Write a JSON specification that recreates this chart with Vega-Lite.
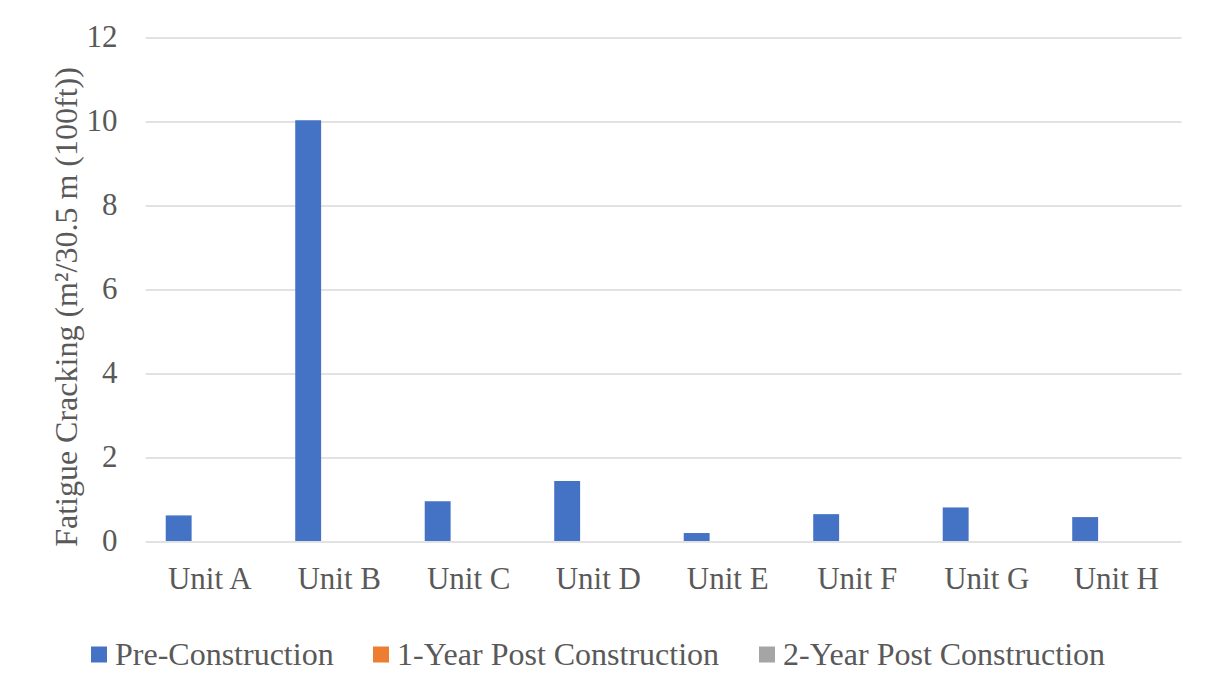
{
  "$schema": "https://vega.github.io/schema/vega-lite/v6.json",
  "autosize": "none",
  "width": 1036,
  "height": 503.5,
  "padding": {"left": 145, "top": 37.5, "right": 26, "bottom": 136},
  "background": "white",
  "config": {
    "font": "Liberation Serif",
    "view": {"stroke": null},
    "axis": {"labelFont": "Liberation Serif", "titleFont": "Liberation Serif"},
    "legend": {"labelFont": "Liberation Serif", "padding": 0}
  },
  "data": {
    "values": [
      {"unit": "Unit A", "series": "Pre-Construction", "value": 0.61},
      {"unit": "Unit A", "series": "1-Year Post Construction", "value": 0},
      {"unit": "Unit A", "series": "2-Year Post Construction", "value": 0},
      {"unit": "Unit B", "series": "Pre-Construction", "value": 10.03},
      {"unit": "Unit B", "series": "1-Year Post Construction", "value": 0},
      {"unit": "Unit B", "series": "2-Year Post Construction", "value": 0},
      {"unit": "Unit C", "series": "Pre-Construction", "value": 0.95},
      {"unit": "Unit C", "series": "1-Year Post Construction", "value": 0},
      {"unit": "Unit C", "series": "2-Year Post Construction", "value": 0},
      {"unit": "Unit D", "series": "Pre-Construction", "value": 1.43},
      {"unit": "Unit D", "series": "1-Year Post Construction", "value": 0},
      {"unit": "Unit D", "series": "2-Year Post Construction", "value": 0},
      {"unit": "Unit E", "series": "Pre-Construction", "value": 0.19},
      {"unit": "Unit E", "series": "1-Year Post Construction", "value": 0},
      {"unit": "Unit E", "series": "2-Year Post Construction", "value": 0},
      {"unit": "Unit F", "series": "Pre-Construction", "value": 0.64},
      {"unit": "Unit F", "series": "1-Year Post Construction", "value": 0},
      {"unit": "Unit F", "series": "2-Year Post Construction", "value": 0},
      {"unit": "Unit G", "series": "Pre-Construction", "value": 0.8},
      {"unit": "Unit G", "series": "1-Year Post Construction", "value": 0},
      {"unit": "Unit G", "series": "2-Year Post Construction", "value": 0},
      {"unit": "Unit H", "series": "Pre-Construction", "value": 0.57},
      {"unit": "Unit H", "series": "1-Year Post Construction", "value": 0},
      {"unit": "Unit H", "series": "2-Year Post Construction", "value": 0}
    ]
  },
  "mark": {"type": "bar"},
  "encoding": {
    "x": {
      "field": "unit",
      "type": "nominal",
      "sort": null,
      "scale": {"paddingInner": 0, "paddingOuter": 0},
      "axis": {
        "title": null,
        "labelAngle": 0,
        "labelFont": "Liberation Serif",
        "labelFontSize": 31,
        "labelColor": "#595959",
        "labelPadding": 23,
        "ticks": false,
        "domain": false,
        "grid": false
      }
    },
    "xOffset": {
      "field": "series",
      "type": "nominal",
      "sort": ["Pre-Construction", "1-Year Post Construction", "2-Year Post Construction"],
      "scale": {"paddingInner": 0, "paddingOuter": 1.3525, "align": 0.4}
    },
    "y": {
      "field": "value",
      "type": "quantitative",
      "scale": {"domain": [0, 12]},
      "axis": {
        "title": "Fatigue Cracking (m²/30.5 m (100ft))",
        "titleFont": "Liberation Serif",
        "titleFontSize": 32,
        "titleFontWeight": "normal",
        "titleColor": "#595959",
        "titleAngle": -90,
        "titleX": -79,
        "titleY": 269,
        "titleAlign": "center",
        "titleBaseline": "middle",
        "values": [0, 2, 4, 6, 8, 10, 12],
        "labelFont": "Liberation Serif",
        "labelFontSize": 31,
        "labelColor": "#595959",
        "labelPadding": 28,
        "ticks": false,
        "domain": false,
        "grid": true,
        "gridColor": "#D9D9D9",
        "gridWidth": 1.5
      }
    },
    "color": {
      "field": "series",
      "type": "nominal",
      "sort": ["Pre-Construction", "1-Year Post Construction", "2-Year Post Construction"],
      "scale": {
        "domain": ["Pre-Construction", "1-Year Post Construction", "2-Year Post Construction"],
        "range": ["#4472C4", "#ED7D31", "#A5A5A5"]
      },
      "legend": {
        "title": null,
        "orient": "none",
        "direction": "horizontal",
        "legendX": -62,
        "legendY": 601,
        "symbolType": "square",
        "symbolSize": 256,
        "symbolStrokeWidth": 0,
        "labelFont": "Liberation Serif",
        "labelFontSize": 32,
        "labelColor": "#595959",
        "labelOffset": 0,
        "labelLimit": 600,
        "columnPadding": 31
      }
    }
  }
}
